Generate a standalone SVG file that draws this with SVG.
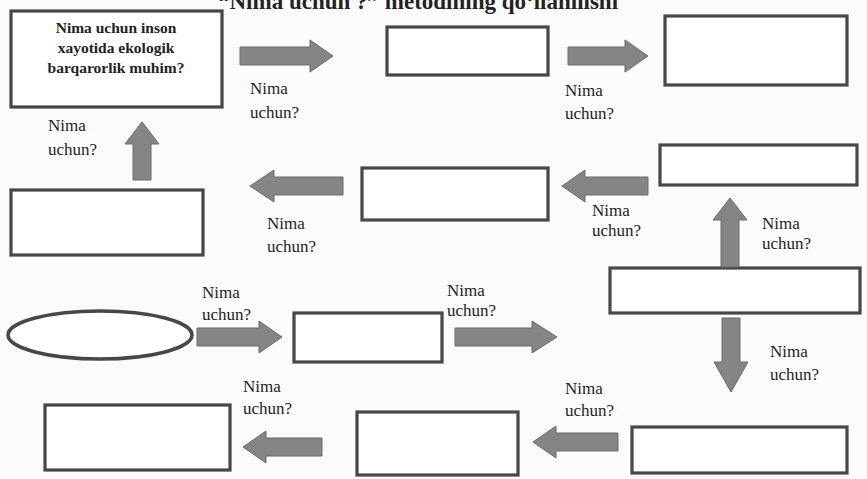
<svg xmlns="http://www.w3.org/2000/svg" width="867" height="479" viewBox="0 0 867 479">
<style>
.bg{fill:#fbfbfb}
.box{fill:#ffffff;stroke:#474747;stroke-width:3.2}
.arr{fill:#858585;stroke:#6a6a6a;stroke-width:1}
.lbl{font-family:"Liberation Serif",serif;font-size:17px;fill:#1e1e1e}
.q{font-family:"Liberation Serif",serif;font-size:15.5px;font-weight:bold;fill:#222;text-anchor:middle}
.title{font-family:"Liberation Serif",serif;font-size:23px;font-weight:bold;fill:#222}
</style>
<rect class="bg" x="0" y="0" width="867" height="479"/>
<text class="title" x="218" y="9">“Nima uchun ?” metodining qo‘llanilishi</text>

<g id="n1"><rect class="box" x="11" y="11" width="211" height="96"/>
<text class="q" x="116" y="33">Nima uchun inson</text>
<text class="q" x="116" y="53">xayotida ekologik</text>
<text class="q" x="116" y="73">barqarorlik muhim?</text></g>
<g id="n2"><rect class="box" x="387" y="27" width="161" height="48"/></g>
<g id="n3"><rect class="box" x="665" y="16" width="182" height="69"/></g>
<g id="n4"><rect class="box" x="660" y="145" width="197" height="40"/></g>
<g id="n5"><rect class="box" x="362" y="168" width="186" height="52"/></g>
<g id="n6"><rect class="box" x="11" y="190" width="192" height="65"/></g>
<g id="n7"><rect class="box" x="610" y="268" width="250" height="45"/></g>
<g id="n8"><ellipse cx="100" cy="335" rx="92" ry="24" fill="#ffffff" stroke="#474747" stroke-width="3.5"/></g>
<g id="n9"><rect class="box" x="294" y="313" width="148" height="49"/></g>
<g id="n10"><rect class="box" x="632" y="427" width="215" height="46"/></g>
<g id="n11"><rect class="box" x="357" y="412" width="161" height="63"/></g>
<g id="n12"><rect class="box" x="45" y="405" width="185" height="65"/></g>

<g id="connectors">
<path class="arr" d="M240,47 L310,47 L310,40 L333,56 L310,72 L310,65 L240,65 Z"/>
<path class="arr" d="M568,47 L625,47 L625,40 L648,56 L625,72 L625,65 L568,65 Z"/>
<path class="arr" d="M197,328 L259,328 L259,321 L282,337 L259,353 L259,346 L197,346 Z"/>
<path class="arr" d="M455,328 L532,328 L532,321 L557,337 L532,353 L532,346 L455,346 Z"/>
<path class="arr" d="M343,177 L274,177 L274,170 L250,186 L274,202 L274,195 L343,195 Z"/>
<path class="arr" d="M648,177 L585,177 L585,170 L562,186 L585,202 L585,195 L648,195 Z"/>
<path class="arr" d="M322,438 L266,438 L266,431 L243,447 L266,463 L266,456 L322,456 Z"/>
<path class="arr" d="M618,433 L556,433 L556,426 L533,442 L556,458 L556,451 L618,451 Z"/>
<path class="arr" d="M133,180 L133,144 L125,144 L142,122 L159,144 L151,144 L151,180 Z"/>
<path class="arr" d="M721,267 L721,220 L713,220 L730,198 L747,220 L739,220 L739,267 Z"/>
<path class="arr" d="M722,318 L722,362 L714,362 L731,392 L748,362 L740,362 L740,318 Z"/>
</g>

<g id="labels">
<text class="lbl" x="250" y="94">Nima</text><text class="lbl" x="250" y="118">uchun?</text>
<text class="lbl" x="565" y="96">Nima</text><text class="lbl" x="565" y="119">uchun?</text>
<text class="lbl" x="48" y="131">Nima</text><text class="lbl" x="48" y="155">uchun?</text>
<text class="lbl" x="267" y="229">Nima</text><text class="lbl" x="267" y="252">uchun?</text>
<text class="lbl" x="592" y="216">Nima</text><text class="lbl" x="592" y="236">uchun?</text>
<text class="lbl" x="762" y="229">Nima</text><text class="lbl" x="762" y="249">uchun?</text>
<text class="lbl" x="202" y="298">Nima</text><text class="lbl" x="202" y="320">uchun?</text>
<text class="lbl" x="447" y="296">Nima</text><text class="lbl" x="447" y="316">uchun?</text>
<text class="lbl" x="770" y="357">Nima</text><text class="lbl" x="770" y="380">uchun?</text>
<text class="lbl" x="243" y="392">Nima</text><text class="lbl" x="243" y="414">uchun?</text>
<text class="lbl" x="565" y="394">Nima</text><text class="lbl" x="565" y="416">uchun?</text>
</g>
</svg>
